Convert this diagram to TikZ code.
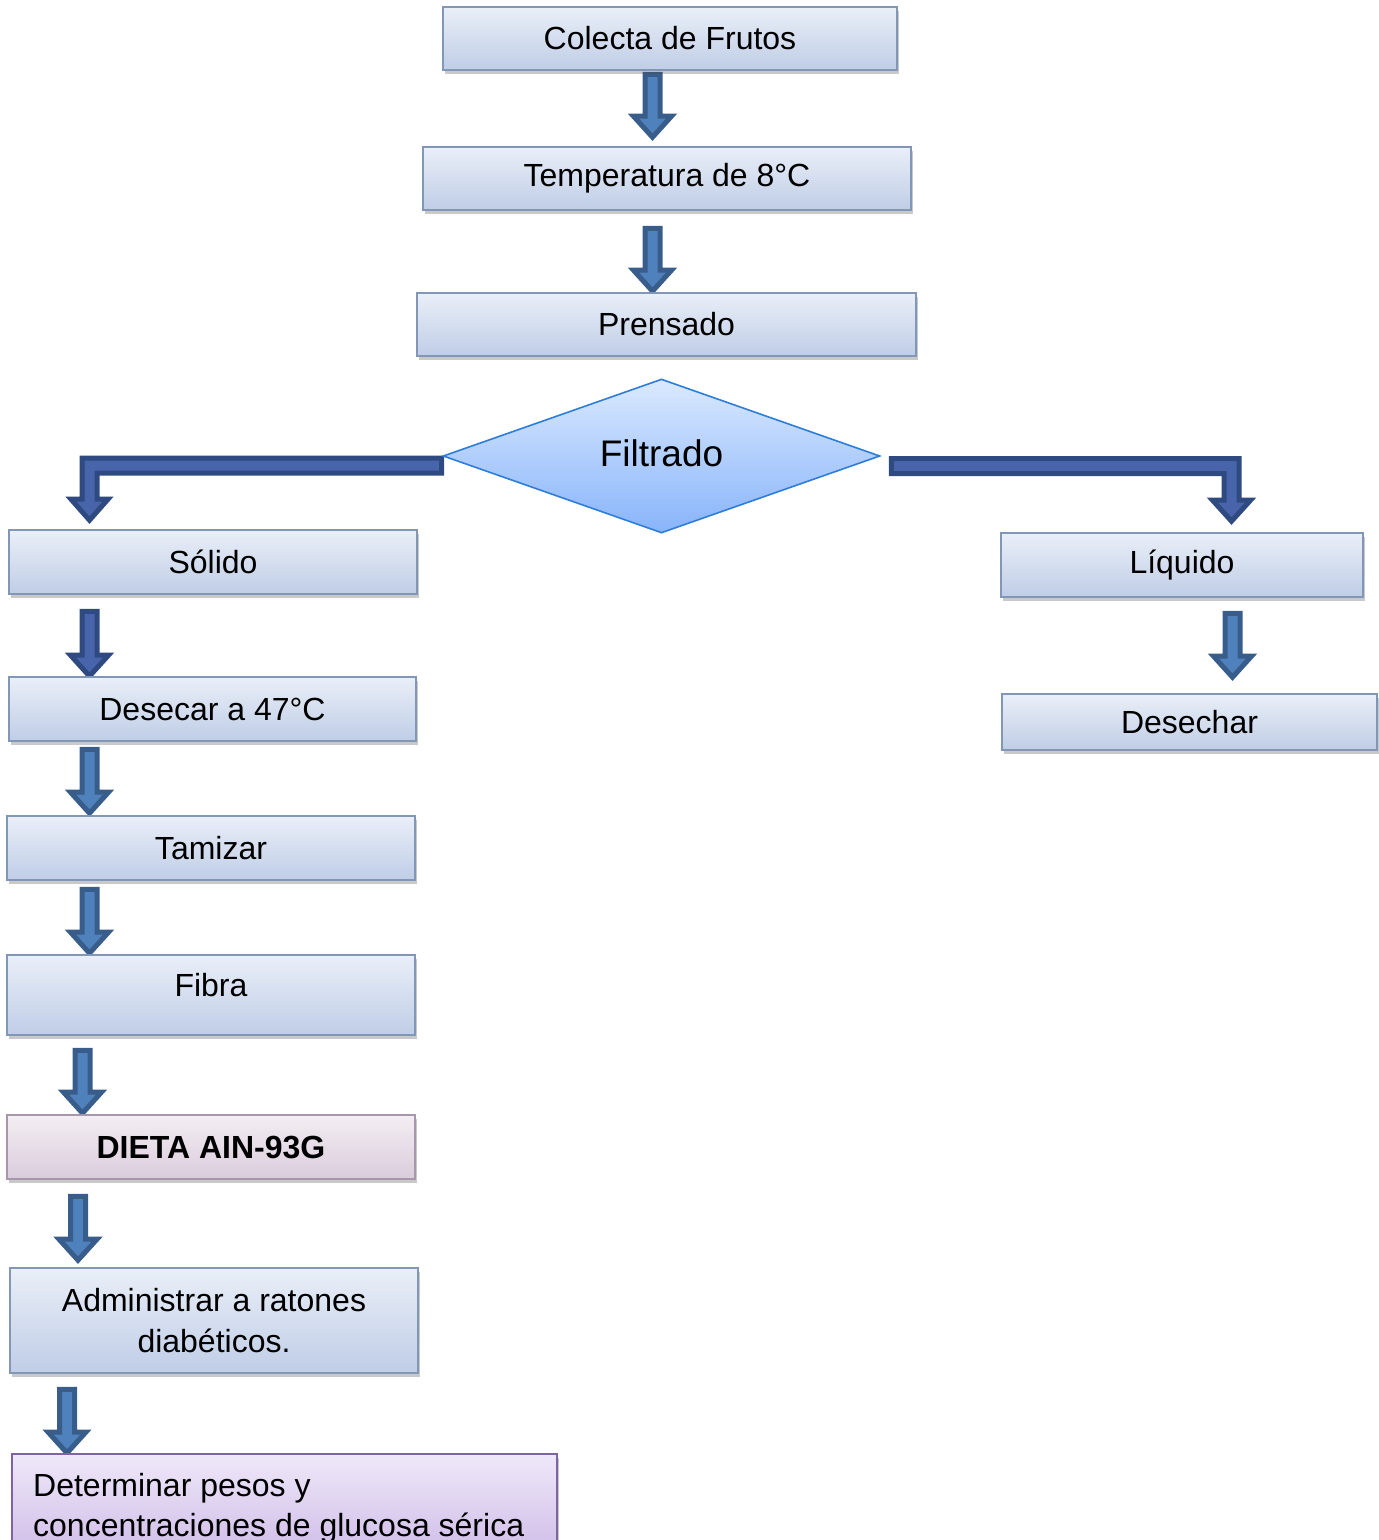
\documentclass[tikz,border=0pt]{standalone}
\usepackage{fontspec}
\setmainfont{Liberation Sans}
\usetikzlibrary{shapes.geometric,shadows,calc,backgrounds}
\definecolor{boxtop}{HTML}{EAEFF8}
\definecolor{boxbot}{HTML}{BFCDE6}
\definecolor{boxborder}{HTML}{8296B6}
\definecolor{pinktop}{HTML}{F3EEF3}
\definecolor{pinkbot}{HTML}{DACCDB}
\definecolor{pinkborder}{HTML}{A797AA}
\definecolor{purptop}{HTML}{EFE8F9}
\definecolor{purpbot}{HTML}{C7B2E3}
\definecolor{purpborder}{HTML}{8064A2}
\definecolor{diatop}{HTML}{DAE9FE}
\definecolor{diabot}{HTML}{88B4FA}
\definecolor{diaborder}{HTML}{2E7DD7}
\definecolor{steelfill}{HTML}{4F81BD}
\definecolor{steelline}{HTML}{385D8A}
\definecolor{indfill}{HTML}{4865AB}
\definecolor{indline}{HTML}{2F4A80}
\newcommand\varrow[3]{\draw[#1] let \p1=#2, \p2=#3 in
  (\x1-7.5pt,\y1) -- (\x1+7.5pt,\y1) -- (\x1+7.5pt,\y2+21pt) -- (\x1+19pt,\y2+21pt)
  -- (\x1,\y2) -- (\x1-19pt,\y2+21pt) -- (\x1-7.5pt,\y2+21pt) -- cycle;}
\tikzset{
  txt/.style={font=\fontsize{32}{41}\selectfont, text=black},
  box/.style={txt, draw=boxborder, line width=1.6pt, top color=boxtop, bottom color=boxbot,
    inner sep=0pt, drop shadow={shadow xshift=2pt, shadow yshift=-3.5pt, opacity=.3, fill=black!70}},
  pinkbox/.style={box, draw=pinkborder, top color=pinktop, bottom color=pinkbot},
  purpbox/.style={box, draw=purpborder, line width=2pt, top color=purptop, bottom color=purpbot},
  decision/.style={diamond, inner sep=0pt, draw=diaborder, line width=1.6pt, top color=diatop, bottom color=diabot},
  bigtxt/.style={font=\fontsize{37}{44}\selectfont, text=black},
  steelarrow/.style={fill=steelfill, draw=steelline, line width=5pt, line join=miter},
  indarrow/.style={fill=indfill, draw=indline, line width=5pt, line join=miter},
}
\begin{document}
\begin{tikzpicture}[x=1pt,y=-1pt]
\useasboundingbox (0,0) rectangle (1379,1540);
\clip (0,0) rectangle (1379,1540);

\node[box, minimum width=454pt, minimum height=63pt] (colecta) at (670,38.5) {Colecta de Frutos};
\node[box, minimum width=488pt, minimum height=63pt] (temp) at (667,178.5) {Temperatura de 8°C};
\node[box, minimum width=499pt, minimum height=63pt] (prensado) at (666.5,324.5) {Prensado};
\node[decision, minimum width=437pt, minimum height=154pt] (filtrado) at (661.5,456) {};
\node[bigtxt] (filtradotxt) at (661.5,453) {Filtrado};
\node[box, minimum width=408pt, minimum height=64pt] (solido) at (213,562) {Sólido};
\node[box, minimum width=362pt, minimum height=64pt] (liquido) at (1182,565) {Líquido};
\node[box, minimum width=375pt, minimum height=56pt] (desechar) at (1189.5,722) {Desechar};
\node[box, minimum width=407pt, minimum height=64pt] (desecar) at (212.5,709) {Desecar a 47°C};
\node[box, minimum width=408pt, minimum height=64pt] (tamizar) at (211,848) {Tamizar};
\node[box, minimum width=408pt, minimum height=80pt] (fibra) at (211,995) {};
\node[txt] (fibratxt) at (211,985) {Fibra};
\node[pinkbox, minimum width=408pt, minimum height=64pt, font=\fontsize{32}{41}\selectfont\bfseries] (dieta) at (211,1147) {DIETA AIN-93G};
\node[box, minimum width=408pt, minimum height=105pt, align=center] (admin) at (214,1320.5) {Administrar a ratones\\diabéticos.};
\node[purpbox, minimum width=545pt, minimum height=126pt] (det) at (284.5,1517) {};
\node[txt, font=\fontsize{32}{40}\selectfont, anchor=base west, align=left, inner sep=0pt] (dettxt) at (33,1536) {Determinar pesos y\\concentraciones de glucosa sérica};

\begin{scope}[on background layer]
\varrow{steelarrow}{($(colecta.south)+(-17.5,3.5)$)}{($(temp.north)+(-14.5,-9)$)}
\varrow{steelarrow}{($(temp.south)+(-14.5,17.5)$)}{($(prensado.north)+(-14,-1)$)}
\varrow{indarrow}{($(solido.south)+(-123.5,16.5)$)}{($(desecar.north)+(-123,0)$)}
\varrow{steelarrow}{($(desecar.south)+(-123,7.5)$)}{($(tamizar.north)+(-121.5,-2)$)}
\varrow{steelarrow}{($(tamizar.south)+(-121.5,8.5)$)}{($(fibra.north)+(-121.5,-1)$)}
\varrow{steelarrow}{($(fibra.south)+(-128.5,14.5)$)}{($(dieta.north)+(-128.5,-1)$)}
\varrow{steelarrow}{($(dieta.south)+(-133,16.5)$)}{($(admin.north)+(-136,-7)$)}
\varrow{steelarrow}{($(admin.south)+(-147,15.5)$)}{($(det.north)+(-217.5,0)$)}
\varrow{steelarrow}{($(liquido.south)+(50.5,15.5)$)}{($(desechar.north)+(43,-16)$)}
% elbow arrows from the decision
\draw[indarrow] let \p1=($(filtrado.west)+(-0.5,0)$), \p2=($(solido.north)+(-123.5,-9)$) in
  (\x1,\y1-2pt) -- (\x2-7.5pt,\y1-2pt) -- (\x2-7.5pt,\y2+21pt) -- (\x2-18.5pt,\y2+21pt)
  -- (\x2,\y2) -- (\x2+18.5pt,\y2+21pt) -- (\x2+7.5pt,\y2+21pt) -- (\x2+7.5pt,\y1-17pt)
  -- (\x1,\y1-17pt) -- cycle;
\draw[indarrow] let \p1=($(filtrado.east)+(10.5,0)$), \p2=($(liquido.north)+(49.5,-11)$) in
  (\x1,\y1-2.5pt) -- (\x2+7.5pt,\y1-2.5pt) -- (\x2+7.5pt,\y2+21pt) -- (\x2+19pt,\y2+21pt)
  -- (\x2,\y2) -- (\x2-19pt,\y2+21pt) -- (\x2-7.5pt,\y2+21pt) -- (\x2-7.5pt,\y1-17.5pt)
  -- (\x1,\y1-17.5pt) -- cycle;
\end{scope}
\end{tikzpicture}
\end{document}
